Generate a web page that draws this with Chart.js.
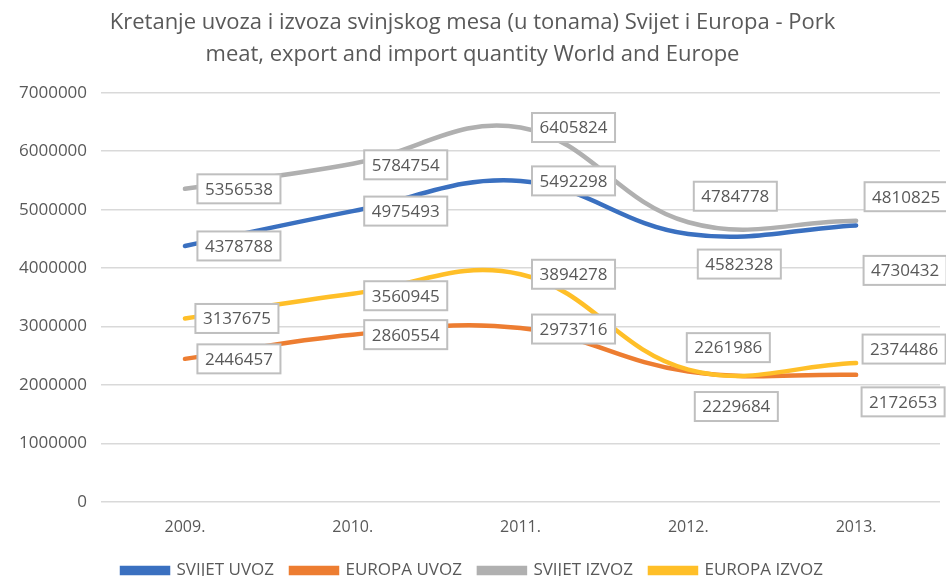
<!DOCTYPE html>
<html>
<head>
<meta charset="utf-8">
<script src="https://cdn.jsdelivr.net/npm/chart.js@4"></script>
<style>
  body { margin: 0; background: #fff; }
  #wrap { width: 946px; height: 576px; }
</style>
</head>
<body>
<div id="wrap"><canvas id="porkChart" width="946" height="576"></canvas></div>
<script>
const years = ['2009.', '2010.', '2011.', '2012.', '2013.'];
const svijetUvoz = [4378788, 4975493, 5492298, 4582328, 4730432];
const europaUvoz = [2446457, 2860554, 2973716, 2229684, 2172653];
const svijetIzvoz = [5356538, 5784754, 6405824, 4784778, 4810825];
const europaIzvoz = [3137675, 3560945, 3894278, 2261986, 2374486];
const yTicks = [0, 1000000, 2000000, 3000000, 4000000, 5000000, 6000000, 7000000];

// label box centre offsets from each point (px), per dataset
const labelOffsets = [
    [[54, 0], [53, 0], [53, 0], [51, 30], [49, 45]],
    [[54, 0], [53, 0], [53, 1], [48, 35], [47, 27]],
    [[54, 0], [53, 1], [53, 0], [47, -26], [50, -24]],
    [[52, 0], [53, 2], [53, 0], [40, -22], [48, -14]]
];

const textColor = '#595959';
const fontFamily = '"Open Sans", sans-serif';

function makeSeries(label, data, color, order) {
    return {
        label: label,
        data: data,
        borderColor: color,
        backgroundColor: color,
        borderWidth: 4.5,
        borderCapStyle: 'round',
        tension: 0.4,
        pointRadius: 0,
        pointHoverRadius: 0,
        order: order
    };
}

// draws the boxed value labels
const boxLabels = {
    id: 'boxLabels',
    afterDatasetsDraw(chart) {
        const c = chart.ctx;
        c.save();
        c.font = '17px ' + fontFamily;
        c.textAlign = 'center';
        c.textBaseline = 'middle';
        chart.data.datasets.forEach((ds, i) => {
            const meta = chart.getDatasetMeta(i);
            meta.data.forEach((pt, j) => {
                const txt = String(ds.data[j]);
                const off = labelOffsets[i][j];
                const cx = pt.x + off[0];
                const cy = pt.y + off[1];
                const w = c.measureText(txt).width + 15;
                const h = 29;
                c.fillStyle = '#ffffff';
                c.fillRect(cx - w / 2, cy - h / 2, w, h);
                c.strokeStyle = '#bfbfbf';
                c.lineWidth = 2;
                c.strokeRect(cx - w / 2, cy - h / 2, w, h);
                c.fillStyle = textColor;
                c.fillText(txt, cx, cy + 1);
            });
        });
        c.restore();
    }
};

const ctx = document.getElementById('porkChart').getContext('2d');
new Chart(ctx, {
    type: 'line',
    data: {
        labels: years,
        datasets: [
            makeSeries('SVIJET UVOZ', svijetUvoz, '#3a70c0', 3),
            makeSeries('EUROPA UVOZ', europaUvoz, '#ed7d31', 2),
            makeSeries('SVIJET IZVOZ', svijetIzvoz, '#b0b0b0', 1),
            makeSeries('EUROPA IZVOZ', europaIzvoz, '#ffbf28', 0)
        ]
    },
    options: {
        responsive: false,
        animation: false,
        layout: { padding: { left: 5, right: 6, top: 0, bottom: -13 } },
        plugins: {
            title: {
                display: true,
                text: ['Kretanje uvoza i izvoza svinjskog mesa (u tonama) Svijet i Europa - Pork',
                       'meat, export and import quantity World and Europe'],
                color: textColor,
                font: { family: fontFamily, size: 22, weight: 'normal', lineHeight: 1.45 },
                padding: { top: 7, bottom: 22 }
            },
            legend: {
                position: 'bottom',
                labels: {
                    color: textColor,
                    font: { family: fontFamily, size: 17 },
                    boxWidth: 46,
                    boxHeight: 5,
                    padding: 17,
                    sort: (a, b) => a.datasetIndex - b.datasetIndex
                }
            },
            tooltip: { enabled: false }
        },
        scales: {
            x: {
                offset: true,
                grid: { display: false },
                border: { display: false },
                ticks: { color: textColor, font: { family: fontFamily, size: 16 }, padding: 8 }
            },
            y: {
                min: 0,
                max: 7000000,
                afterBuildTicks: axis => { axis.ticks = yTicks.map(v => ({ value: v })); },
                grid: { color: '#d9d9d9', lineWidth: 1.5, drawTicks: false },
                border: { display: false },
                ticks: {
                    color: textColor,
                    font: { family: fontFamily, size: 17 },
                    padding: 14,
                    callback: v => String(v)
                }
            }
        }
    },
    plugins: [boxLabels]
});
</script>
</body>
</html>
